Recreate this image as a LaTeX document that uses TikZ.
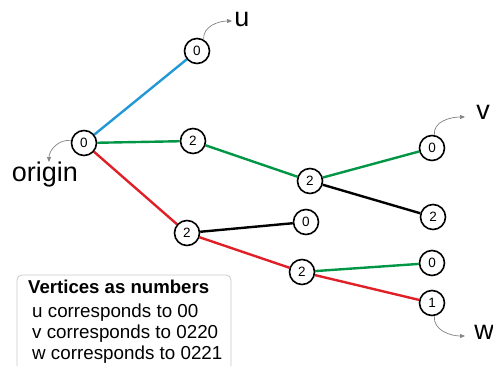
\documentclass[tikz,border=0pt]{standalone}
\usepackage{fontspec}
\setmainfont{Liberation Sans}
\usetikzlibrary{arrows.meta}
\definecolor{eblue}{RGB}{35,152,214}
\definecolor{egreen}{RGB}{0,150,70}
\definecolor{ered}{RGB}{224,32,38}
\definecolor{arrgray}{RGB}{130,130,130}
\definecolor{boxgray}{RGB}{200,200,200}
\pgfdeclarelayer{edges}
\pgfsetlayers{edges,main}
\tikzset{
  vtx/.style={circle, draw=black, line width=1.6pt, fill=white, minimum size=25pt, inner sep=0pt, font=\fontsize{13.5}{13.5}\selectfont},
  edge/.style={line width=2.4pt},
  lbl/.style={font=\fontsize{27}{27}\selectfont, inner sep=0pt},
  pointer/.style={draw=arrgray, line width=0.7pt, -{Triangle[length=5pt,width=4pt]}},
  legtxt/.style={font=\fontsize{18.8}{18.8}\selectfont, anchor=west, inner sep=0pt},
}
\begin{document}
\begin{tikzpicture}[x=1pt,y=1pt]
\useasboundingbox (0,0) rectangle (493,365);
\clip (0,0) rectangle (493,365);
% nodes (y = 365 - pixel y)
\node[vtx] (o)  at (84,222) {0};
\node[vtx] (u)  at (197,314) {0};
\node[vtx] (a)  at (193,224) {2};
\node[vtx] (b)  at (310,184) {2};
\node[vtx] (v)  at (432,217) {0};
\node[vtx] (br) at (433,148) {2};
\node[vtx] (c)  at (187,132) {2};
\node[vtx] (c0) at (306,143) {0};
\node[vtx] (d)  at (302,93) {2};
\node[vtx] (d0) at (432,102) {0};
\node[vtx] (w)  at (432,62) {1};
% edges
\begin{pgfonlayer}{edges}
\draw[edge, eblue]  (o) -- (u);
\draw[edge, egreen] (o) -- (a);
\draw[edge, egreen] (a) -- (b);
\draw[edge, egreen] (b) -- (v);
\draw[edge, black]  (b) -- (br);
\draw[edge, ered]   (o) -- (c);
\draw[edge, black]  (c) -- (c0);
\draw[edge, ered]   (c) -- (d);
\draw[edge, egreen] (d) -- (d0);
\draw[edge, ered]   (d) -- (w);
\end{pgfonlayer}
% labels
\node[lbl] (ul) at (242,346) {u};
\node[lbl] (vl) at (483,253) {v};
\node[lbl] (wl) at (484,33) {w};
\node[lbl] (ol) at (45,190) {origin};
% pointer arrows
\coordinate (ue) at (232,344);
\coordinate (ve) at (465,248);
\coordinate (we) at (465,29);
\coordinate (oe) at (49,203);
\draw[pointer] (u.60) to[out=95,in=180] (ue);
\draw[pointer] (v.80) to[out=95,in=180] (ve);
\draw[pointer] (w.-80) to[out=-95,in=180] (we);
\draw[pointer] (o.170) to[out=170,in=90] (oe);
% legend
\draw[boxgray, line width=0.8pt, rounded corners=5pt, fill=white] (17,90) rectangle (231,-10);
\node[legtxt, font=\fontsize{18.6}{18.6}\selectfont\bfseries] (lt) at (28,78) {Vertices as numbers};
\node[legtxt] (l1) at (32,52) {u corresponds to 00};
\node[legtxt] (l2) at (32,31) {v corresponds to 0220};
\node[legtxt] (l3) at (32,10) {w corresponds to 0221};
\end{tikzpicture}
\end{document}
